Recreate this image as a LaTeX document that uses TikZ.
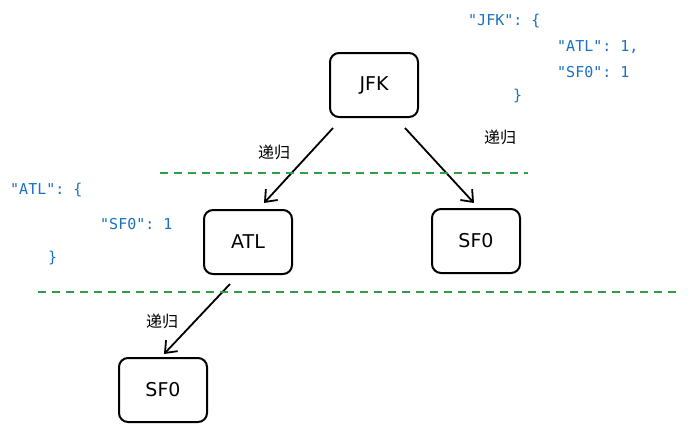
\documentclass[tikz,border=0pt]{standalone}
\usepackage{fontspec}
\usetikzlibrary{arrows.meta}
\setmainfont{DejaVu Sans}
\setmonofont{DejaVu Sans Mono}
\newfontfamily\cjk{Noto Sans CJK SC}
\definecolor{jsonblue}{HTML}{1971C2}
\definecolor{sepgreen}{HTML}{2F9E44}
\begin{document}
\begin{tikzpicture}[x=1pt,y=-1pt,
 box/.style={draw,line width=2pt,rounded corners=9pt,minimum width=88pt,minimum height=64pt,font=\fontsize{19}{22}\selectfont},
 arr/.style={line width=1.8pt,-{Straight Barb[length=10pt,width=16pt]}},
 lbl/.style={font=\cjk\fontsize{16}{18}\selectfont},
 json/.style={font=\ttfamily\fontsize{15}{17}\selectfont,text=jsonblue,anchor=west,inner sep=0},
 sep/.style={draw=sepgreen,line width=2pt,dash pattern=on 8pt off 6pt}]
\useasboundingbox (0,0) rectangle (695,437);
\node[box] (jfk) at (374,85) {JFK};
\node[box] (atl) at (248,242) {ATL};
\node[box] (sfo1) at (476,241) {SF0};
\node[box] (sfo2) at (163,390) {SF0};
\coordinate (a1) at (333,128); \coordinate (a2) at (264,203);
\coordinate (b1) at (405,128); \coordinate (b2) at (474,203);
\coordinate (c1) at (230,284); \coordinate (c2) at (164,354);
\draw[arr] (a1) -- (a2);
\draw[arr] (b1) -- (b2);
\draw[arr] (c1) -- (c2);
\node[lbl] (l1) at (274,152) {递归};
\node[lbl] (l2) at (500,137) {递归};
\node[lbl] (l3) at (162,321) {递归};
\coordinate (d1) at (160,173); \coordinate (d2) at (528,173);
\coordinate (e1) at (38,292); \coordinate (e2) at (680,292);
\draw[sep] (d1) -- (d2);
\draw[sep] (e1) -- (e2);
\node[json] (j1) at (468,21) {"JFK": \{};
\node[json] (j2) at (557,47) {"ATL": 1,};
\node[json] (j3) at (557,72) {"SF0": 1};
\node[json] (j4) at (513,96) {\}};
\node[json] (k1) at (10,190) {"ATL": \{};
\node[json] (k2) at (100,224) {"SF0": 1};
\node[json] (k3) at (48,258) {\}};
\end{tikzpicture}
\end{document}
